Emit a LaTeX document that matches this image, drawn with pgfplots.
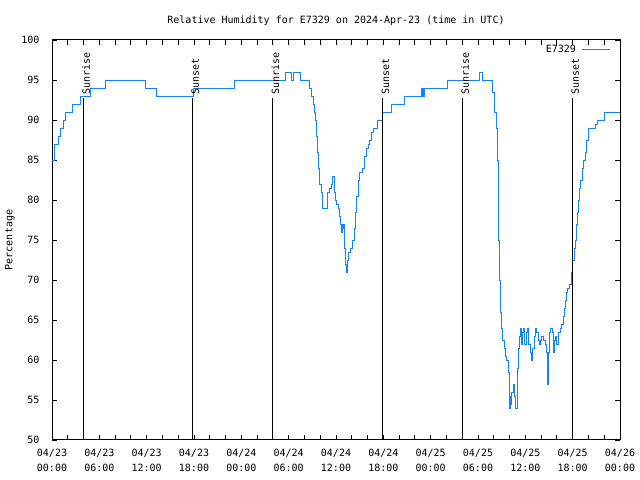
\documentclass[border=0pt]{standalone}
\usepackage{pgfplots}
\pgfplotsset{compat=1.18}
\usepackage{fontspec}
\setmainfont{DejaVu Sans Mono}
\definecolor{rh}{RGB}{20,130,250}
\begin{document}
\begin{tikzpicture}[font=\fontsize{10bp}{15bp}\selectfont]
\begin{axis}[
  scale only axis, width=568bp, height=400bp,
  xmin=0, xmax=72, ymin=50, ymax=100,
  xtick={0,6,...,72},
  xticklabels={{04/23\\00:00},{04/23\\06:00},{04/23\\12:00},{04/23\\18:00},{04/24\\00:00},{04/24\\06:00},{04/24\\12:00},{04/24\\18:00},{04/25\\00:00},{04/25\\06:00},{04/25\\12:00},{04/25\\18:00},{04/26\\00:00}},
  xticklabel style={align=center, yshift=-6bp},
  minor x tick num=2,
  ytick={50,55,...,100},
  yticklabel style={xshift=-9bp},
  tick align=inside, major tick length=5bp, minor tick length=5bp,
  tick style={black, line width=0.8bp},
  axis line style={line width=1bp},
  /pgf/number format/assume math mode=true,
  ylabel={Percentage},
  ylabel style={yshift=0bp},
  title={Relative Humidity for E7329 on 2024-Apr-23 (time in UTC)},
  title style={yshift=5bp},
  legend style={draw=none, fill=none, at={(1,1)}, anchor=north east, xshift=-6bp, yshift=-1bp, column sep=4bp, font=\fontsize{10bp}{12bp}\selectfont},
  legend plot pos=right,
  legend image code/.code={\draw[#1] (0bp,0bp) -- (28bp,0bp);},
]
\addplot[rh, const plot, no marks, line width=0.9bp] coordinates {
(0,85) (0.3,87) (0.8,88) (1.1,89) (1.4,90) (1.7,91) (2.6,92) (3.6,93) (4.9,94) (6.8,95)
(11.9,94) (13.2,93) (17.95,94) (23.1,95) (29.6,96) (30.3,95) (30.6,96) (31.5,95) (32.6,94)
(32.9,93) (33.1,92) (33.3,91) (33.45,90) (33.55,88) (33.65,86) (33.8,84) (33.95,82) (34.1,81)
(34.3,79) (34.9,81) (35.2,81.5) (35.4,82) (35.6,83) (35.75,81) (35.9,80) (36.1,79.5) (36.3,79)
(36.4,78) (36.55,77) (36.7,76) (36.8,77) (36.9,76.5) (37.0,77) (37.1,74) (37.2,72) (37.3,71)
(37.4,72.5) (37.6,73.5) (37.8,74) (38.1,75) (38.3,76.5) (38.45,78.5) (38.6,80.5) (38.8,82.5)
(39.0,83.5) (39.3,84) (39.6,85.5) (39.8,86.5) (40.1,87) (40.3,87.5) (40.5,88.5) (40.7,89)
(41.3,90) (41.9,91) (43.0,92) (44.7,93) (46.8,94) (46.9,93) (47.0,94) (47.1,93) (47.2,94)
(50.1,95) (54.2,96) (54.6,95) (55.8,93.5) (56.1,91) (56.3,89) (56.45,85) (56.55,80) (56.65,75)
(56.75,70) (56.9,66) (57.0,64) (57.15,62.5) (57.3,61.5) (57.45,60.5) (57.6,60) (57.9,58.5)
(58.0,54) (58.05,55.5) (58.15,54.5) (58.3,56) (58.45,57) (58.6,55.5) (58.75,54) (58.95,56)
(59.0,59) (59.1,61.5) (59.2,63) (59.35,64) (59.45,62) (59.6,63.5) (59.8,64) (59.95,62)
(60.1,63.5) (60.3,64) (60.45,62) (60.6,61) (60.75,60) (60.9,61.5) (61.1,63) (61.25,64)
(61.4,63.5) (61.6,62.5) (61.8,62) (61.95,62.5) (62.1,63) (62.35,62.5) (62.55,62) (62.7,61)
(62.75,58.5) (62.85,57) (62.95,61) (63.1,63.5) (63.2,64) (63.4,63.5) (63.55,61) (63.7,62.5)
(63.85,63) (64.0,62) (64.2,63.5) (64.4,64) (64.6,64.5) (64.8,65.5) (64.95,66.5) (65.1,67.5)
(65.25,68.5) (65.4,69) (65.65,69.5) (65.85,71) (66.0,72.5) (66.2,74) (66.35,75) (66.5,77)
(66.65,78.5) (66.75,80) (66.9,81.5) (67.0,82.5) (67.2,84) (67.4,85) (67.6,86) (67.75,87.5)
(67.95,89) (68.9,89.5) (69.2,90) (70.0,91) (72,91)
};
\addlegendentry{E7329}
\draw[black, line width=0.9bp] (axis cs:4.0,50) -- (axis cs:4.0,92.7);
\draw[black, line width=0.9bp] (axis cs:17.85,50) -- (axis cs:17.85,92.7);
\draw[black, line width=0.9bp] (axis cs:28.0,50) -- (axis cs:28.0,92.7);
\draw[black, line width=0.9bp] (axis cs:41.95,50) -- (axis cs:41.95,92.7);
\draw[black, line width=0.9bp] (axis cs:52.05,50) -- (axis cs:52.05,92.7);
\draw[black, line width=0.9bp] (axis cs:66.0,50) -- (axis cs:66.0,92.7);
\path (axis cs:4.0,92.9) ++(2.5bp,0bp) node[rotate=90, anchor=west, inner sep=2bp] {Sunrise};
\path (axis cs:17.85,92.9) ++(2.5bp,0bp) node[rotate=90, anchor=west, inner sep=2bp] {Sunset};
\path (axis cs:28.0,92.9) ++(2.5bp,0bp) node[rotate=90, anchor=west, inner sep=2bp] {Sunrise};
\path (axis cs:41.95,92.9) ++(2.5bp,0bp) node[rotate=90, anchor=west, inner sep=2bp] {Sunset};
\path (axis cs:52.05,92.9) ++(2.5bp,0bp) node[rotate=90, anchor=west, inner sep=2bp] {Sunrise};
\path (axis cs:66.0,92.9) ++(2.5bp,0bp) node[rotate=90, anchor=west, inner sep=2bp] {Sunset};
\end{axis}
\pgfresetboundingbox
\path (current axis.south west) ++(-52bp,-40bp) rectangle ++(640bp,480bp);
\end{tikzpicture}
\end{document}
